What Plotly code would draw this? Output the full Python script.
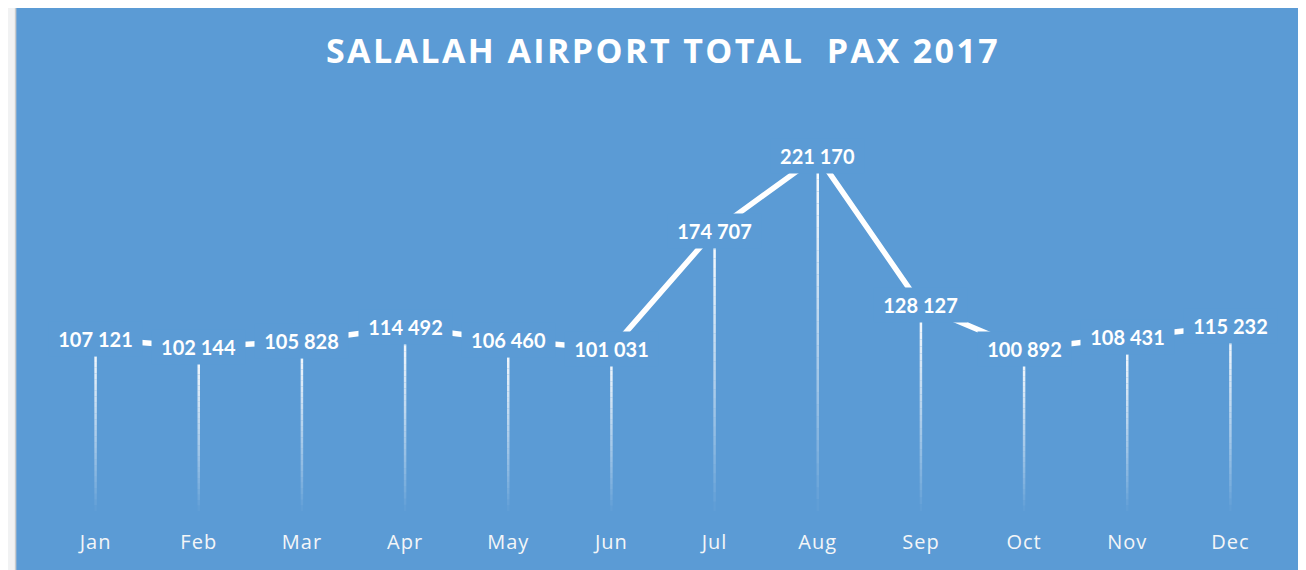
import plotly.graph_objects as go

# ---- data ----
months = ["Jan", "Feb", "Mar", "Apr", "May", "Jun", "Jul", "Aug", "Sep", "Oct", "Nov", "Dec"]
pax = [107121, 102144, 105828, 114492, 106460, 101031, 174707, 221170, 128127, 100892, 108431, 115232]
title_text = "SALALAH AIRPORT TOTAL  PAX 2017"

# ---- style / layout constants ----
# the page body has an 8px margin, so the figure is 8px smaller than the window
OFF = 8
W, H = 1306 - OFF, 570 - OFF
L, R, T, B = 44.4 - OFF, 24, 100 - OFF, 59
BLUE = "#5B9BD5"
OUTER = "#F1F2F3"
PX_PER_K = 1.6046  # pixels per 1000 pax
y_max = (H - T - B) / PX_PER_K * 1000

fig = go.Figure()

# gradient drop lines: stacked segments of rising opacity
N = 30
for k in range(N):
    xs, ys = [], []
    for m, v in zip(months, pax):
        xs += [m, m, None]
        ys += [v * k / N, v * (k + 1) / N, None]
    a = ((k + 0.5) / N) ** 0.85
    fig.add_trace(go.Scatter(
        x=xs, y=ys, mode="lines",
        line=dict(color=f"rgba(255,255,255,{a:.3f})", width=2.5),
        hoverinfo="skip", showlegend=False))

# main line
fig.add_trace(go.Scatter(
    x=months, y=pax, mode="lines",
    line=dict(color="white", width=5.5),
    hoverinfo="skip", showlegend=False))

# data labels with blue background (cover line under them)
for m, v in zip(months, pax):
    fig.add_annotation(
        x=m, y=v, xref="x", yref="y",
        text=f"{v:,}".replace(",", " "),
        showarrow=False, bgcolor=BLUE, borderpad=4,
        width=85, height=26,
        font=dict(family="Lato", size=20, color="white", weight="bold"))

# blue panel + border (paper coords relative to plot area)
pw = W - L - R
ph = H - T - B
def px_x(p):
    return (p - L) / pw
def px_y(p):
    return (H - B - p) / ph

fig.add_shape(type="rect", xref="paper", yref="paper", layer="below",
              x0=px_x(16 - OFF), x1=px_x(W + 10), y0=px_y(H + 10), y1=px_y(7 - OFF),
              fillcolor=BLUE, line=dict(color="#C9CBCD", width=1.5))

fig.update_layout(
    width=W, height=H,
    margin=dict(l=L, r=R, t=T, b=B),
    paper_bgcolor=OUTER, plot_bgcolor="rgba(0,0,0,0)",
    title=dict(text=f'<span style="letter-spacing:2.4px">{title_text}</span>',
               x=0.5, xref="paper", xanchor="center",
               y=1 - (51 - OFF) / H, yref="container", yanchor="middle",
               font=dict(family="Open Sans", size=34, color="white", weight="bold")),
    xaxis=dict(type="category", categoryorder="array", categoryarray=months,
               tickmode="array", tickvals=months,
               ticktext=[f'<span style="letter-spacing:1px">{m}</span>' for m in months],
               range=[-0.5, 11.5], showgrid=False, zeroline=False, showline=False,
               ticks="outside", ticklen=13, tickcolor="rgba(0,0,0,0)",
               tickfont=dict(family="Open Sans", size=20, color="#F4F6F8"),
               fixedrange=True),
    yaxis=dict(range=[0, y_max], visible=False, showgrid=False, zeroline=False,
               fixedrange=True),
    showlegend=False,
)

fig.write_html("out.html")
